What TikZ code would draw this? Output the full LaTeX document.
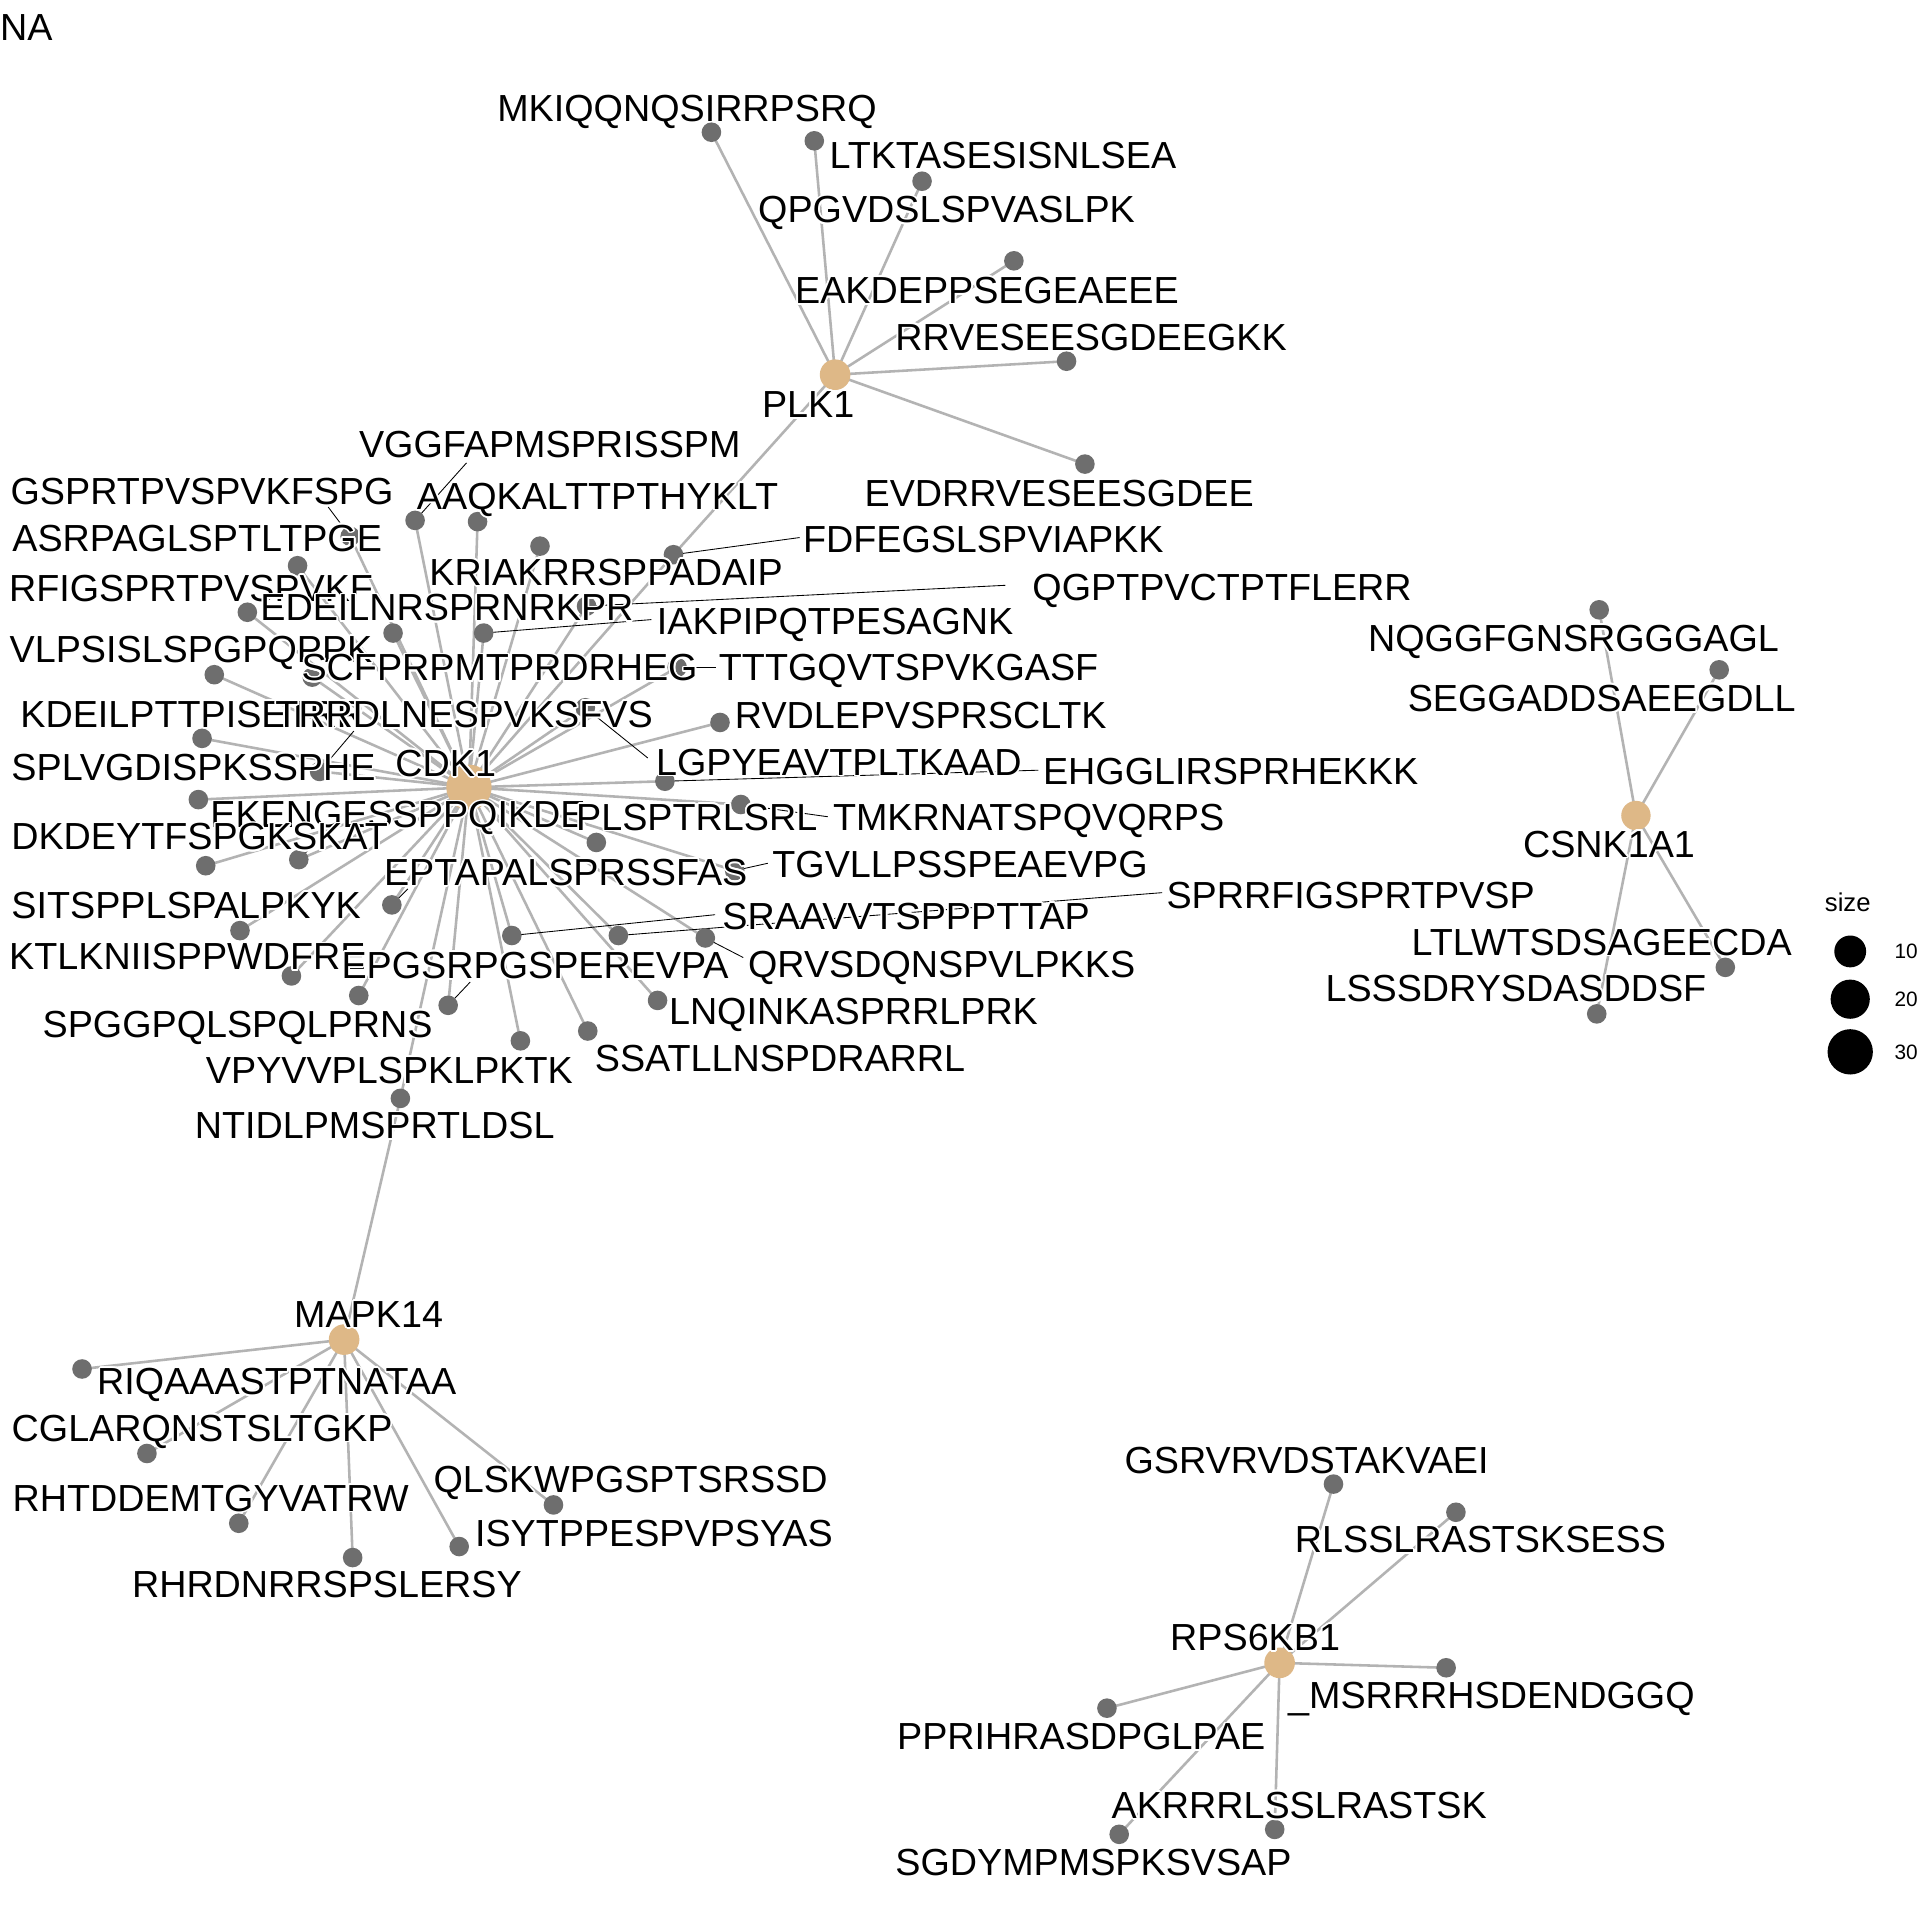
\documentclass[tikz,border=0pt]{standalone}
\usepackage{fontspec}
\setmainfont{Liberation Sans}
\usepackage[copies]{contour}
\contourlength{1.4pt}
\contournumber{16}
\definecolor{edgegray}{HTML}{B3B3B3}
\definecolor{dotgray}{HTML}{6E6E6E}
\definecolor{hubtan}{HTML}{DEB887}
\pgfdeclarelayer{canvas}
\pgfdeclarelayer{edges}
\pgfdeclarelayer{leaders}
\pgfdeclarelayer{labels}
\pgfsetlayers{canvas,edges,leaders,main,labels}
\tikzset{
  edge/.style={draw=edgegray, line width=2.1pt},
  leader/.style={draw=black, line width=0.7pt},
  pepdot/.style={circle, fill=dotgray, inner sep=0pt, minimum size=16pt},
  hubdot/.style={circle, fill=hubtan, inner sep=0pt, minimum size=25pt},
  lbl/.style={inner sep=0pt, text height=22pt, text depth=0pt,
    font=\fontsize{30.8}{37}\selectfont},
  legtext/.style={inner sep=0pt, font=\fontsize{21}{25}\selectfont},
  legnum/.style={inner sep=0pt, anchor=west, font=\fontsize{17}{20}\selectfont},
}
% haloed label text
\newcommand\halo[1]{\contour{white}{#1}}
% peptide: name, dot position, label centre, text
\newcommand\pepnode[6]{%
  \node[pepdot] (#1) at (#2,#3) {};
  \begin{pgfonlayer}{labels}\node[lbl] (#1-l) at (#4,#5) {\halo{#6}};\end{pgfonlayer}}
% repel segment from a peptide dot to its label
\newcommand\leaderto[3]{%
  \coordinate (#1-e) at (#2,#3);
  \begin{pgfonlayer}{leaders}\draw[leader] (#1.center) -- (#1-e);\end{pgfonlayer}}
\begin{document}
\begin{tikzpicture}[x=1pt,y=-1pt]
\useasboundingbox (0,0) rectangle (1568,1568);
\begin{pgfonlayer}{canvas}
\fill[white] (0,0) rectangle (1568,1568);
\end{pgfonlayer}

\node[lbl, anchor=west] (na) at (0,22) {NA};

% kinases
\node[hubdot] (plk1) at (682,306) {};
\node[hubdot, minimum size=37pt] (cdk1) at (383,643) {};
\node[hubdot] (mapk14) at (281,1094) {};
\node[hubdot, minimum size=24pt] (csnk) at (1336,666) {};
\node[hubdot] (rps) at (1045,1358) {};
\begin{pgfonlayer}{labels}
\node[lbl] (plk1-l) at (660,330) {\halo{PLK1}};
\node[lbl] (cdk1-l) at (364,623) {\halo{CDK1}};
\node[lbl] (mapk14-l) at (301,1073) {\halo{MAPK14}};
\node[lbl] (csnk-l) at (1314,689) {\halo{CSNK1A1}};
\node[lbl] (rps-l) at (1025,1337) {\halo{RPS6KB1}};
\end{pgfonlayer}

% PLK1 substrates
\pepnode{mkiq}{581}{108}{561}{88}{MKIQQNQSIRRPSRQ}
\pepnode{ltkt}{665}{115}{819}{127}{LTKTASESISNLSEA}
\pepnode{qpgv}{753}{148}{773}{171}{QPGVDSLSPVASLPK}
\pepnode{eakd}{828}{213}{806}{237}{EAKDEPPSEGEAEEE}
\pepnode{rrve}{871}{295}{891}{275}{RRVESEESGDEEGKK}
\pepnode{evdr}{886}{379}{865}{403}{EVDRRVESEESGDEE}

% CDK1 substrates
\pepnode{vggf}{339}{425}{449}{363}{VGGFAPMSPRISSPM}
\pepnode{aaqk}{390}{426}{488}{405}{AAQKALTTPTHYKLT}
\pepnode{gsprt}{286}{438}{165}{401}{GSPRTPVSPVKFSPG}
\pepnode{asrp}{243}{462}{161}{439}{ASRPAGLSPTLTPGE}
\pepnode{fdfe}{550}{453}{803}{440}{FDFEGSLSPVIAPKK}
\pepnode{kria}{441}{446}{495}{467}{KRIAKRRSPPADAIP}
\pepnode{rfig}{202}{500}{156}{480}{RFIGSPRTPVSPVKF}
\pepnode{qgpt}{479}{495}{998}{479}{QGPTPVCTPTFLERR}
\pepnode{edei}{321}{517}{365}{496}{EDEILNRSPRNRKPR}
\pepnode{iakp}{395}{517}{682}{507}{IAKPIPQTPESAGNK}
\pepnode{vlps}{175}{551}{156}{530}{VLPSISLSPGPQPPK}
\pepnode{scfp}{255}{553}{408}{545}{SCFPRPMTPRDRHEG}
\pepnode{tttg}{553}{545}{742}{545}{TTTGQVTSPVKGASF}
\pepnode{kdei}{165}{603}{157}{583}{KDEILPTTPISETRR}
\pepnode{trrd}{261}{630}{379}{583}{TRRDLNESPVKSFVS}
\pepnode{rvdl}{588}{590}{752}{584}{RVDLEPVSPRSCLTK}
\pepnode{splv}{162}{653}{158}{626}{SPLVGDISPKSSPHE}
\pepnode{lgpy}{478}{578}{685}{622}{LGPYEAVTPLTKAAD}
\pepnode{ehgg}{543}{638}{1005}{630}{EHGGLIRSPRHEKKK}
\pepnode{eken}{244}{702}{325}{665}{EKENGESSPPQIKDE}
\pepnode{plsp}{487}{688}{569}{667}{PLSPTRLSRL}
\pepnode{tmkr}{605}{657}{840}{667}{TMKRNATSPQVQRPS}
\pepnode{dkde}{168}{707}{163}{683}{DKDEYTFSPGKSKAT}
\pepnode{epta}{320}{739}{462}{712}{EPTAPALSPRSSFAS}
\pepnode{tgvl}{600}{711}{784}{706}{TGVLLPSSPEAEVPG}
\pepnode{sprr}{505}{764}{1103}{731}{SPRRFIGSPRTPVSP}
\pepnode{sits}{196}{760}{152}{739}{SITSPPLSPALPKYK}
\pepnode{sraa}{418}{764}{740}{748}{SRAAVVTSPPPTTAP}
\pepnode{ktlk}{238}{797}{153}{781}{KTLKNIISPPWDFRE}
\pepnode{epgs}{366}{821}{437}{788}{EPGSRPGSPEREVPA}
\pepnode{qrvs}{576}{766}{769}{787}{QRVSDQNSPVLPKKS}
\pepnode{lnqi}{537}{817}{697}{826}{LNQINKASPRRLPRK}
\pepnode{spgg}{293}{813}{194}{836}{SPGGPQLSPQLPRNS}
\pepnode{ssat}{480}{842}{637}{864}{SSATLLNSPDRARRL}
\pepnode{vpyv}{425}{850}{318}{874}{VPYVVPLSPKLPKTK}
\pepnode{ntid}{327}{897}{306}{919}{NTIDLPMSPRTLDSL}

\leaderto{vggf}{381}{378}
\leaderto{gsprt}{268}{414}
\leaderto{fdfe}{653}{439}
\leaderto{qgpt}{821}{478}
\leaderto{iakp}{532}{506}
\leaderto{tttg}{585}{545}
\leaderto{trrd}{289}{597}
\leaderto{lgpy}{529}{619}
\leaderto{ehgg}{848}{629}
\leaderto{tmkr}{676}{667}
\leaderto{eken}{252}{694}
\leaderto{epta}{333}{726}
\leaderto{tgvl}{627}{705}
\leaderto{sraa}{584}{747}
\leaderto{sprr}{949}{729}
\leaderto{qrvs}{607}{782}
\leaderto{epgs}{384}{802}

% MAPK14 substrates
\pepnode{riqa}{67}{1118}{226}{1128}{RIQAAASTPTNATAA}
\pepnode{cgla}{120}{1187}{165}{1166}{CGLARQNSTSLTGKP}
\pepnode{rhtd}{195}{1244}{172}{1223}{RHTDDEMTGYVATRW}
\pepnode{rhrd}{288}{1272}{267}{1294}{RHRDNRRSPSLERSY}
\pepnode{qlsk}{452}{1229}{515}{1208}{QLSKWPGSPTSRSSD}
\pepnode{isyt}{375}{1263}{534}{1252}{ISYTPPESPVPSYAS}

% CSNK1A1 substrates
\pepnode{nqgg}{1306}{498}{1285}{521}{NQGGFGNSRGGGAGL}
\pepnode{segg}{1404}{547}{1308}{570}{SEGGADDSAEEGDLL}
\pepnode{ltlw}{1409}{790}{1308}{769}{LTLWTSDSAGEECDA}
\pepnode{lsss}{1304}{828}{1238}{807}{LSSSDRYSDASDDSF}

% RPS6KB1 substrates
\pepnode{gsrv}{1089}{1212}{1067}{1192}{GSRVRVDSTAKVAEI}
\pepnode{rlss}{1189}{1235}{1209}{1257}{RLSSLRASTSKSESS}
\pepnode{msrr}{1181}{1362}{1218}{1384}{\_MSRRRHSDENDGGQ}
\pepnode{ppri}{904}{1395}{883}{1418}{PPRIHRASDPGLPAE}
\pepnode{akrr}{1041}{1494}{1061}{1474}{AKRRRLSSLRASTSK}
\pepnode{sgdy}{914}{1498}{893}{1521}{SGDYMPMSPKSVSAP}

% kinase-substrate edges
\begin{pgfonlayer}{edges}
\foreach \p in {mkiq,ltkt,qpgv,eakd,rrve,evdr,fdfe}
  \draw[edge] (plk1.center) -- (\p.center);
\foreach \p in {vggf,aaqk,gsprt,asrp,fdfe,kria,rfig,qgpt,edei,iakp,vlps,scfp,tttg,
    kdei,trrd,rvdl,splv,lgpy,ehgg,eken,plsp,tmkr,dkde,epta,tgvl,sprr,sits,sraa,
    ktlk,epgs,qrvs,lnqi,spgg,ssat,vpyv,ntid}
  \draw[edge] (cdk1.center) -- (\p.center);
\foreach \p in {riqa,cgla,rhtd,rhrd,qlsk,isyt,ntid}
  \draw[edge] (mapk14.center) -- (\p.center);
\foreach \p in {nqgg,segg,ltlw,lsss}
  \draw[edge] (csnk.center) -- (\p.center);
\foreach \p in {gsrv,rlss,msrr,ppri,akrr,sgdy}
  \draw[edge] (rps.center) -- (\p.center);
\end{pgfonlayer}

% size legend
\node[legtext] (legtitle) at (1509,737) {size};
\node[circle, fill=black, inner sep=0pt, minimum size=26pt] (leg10) at (1511,777) {};
\node[circle, fill=black, inner sep=0pt, minimum size=32pt] (leg20) at (1511,816) {};
\node[circle, fill=black, inner sep=0pt, minimum size=37pt] (leg30) at (1511,859) {};
\node[legnum] (leg10-t) at (1547,777) {10};
\node[legnum] (leg20-t) at (1547,816) {20};
\node[legnum] (leg30-t) at (1547,859) {30};
\end{tikzpicture}
\end{document}
